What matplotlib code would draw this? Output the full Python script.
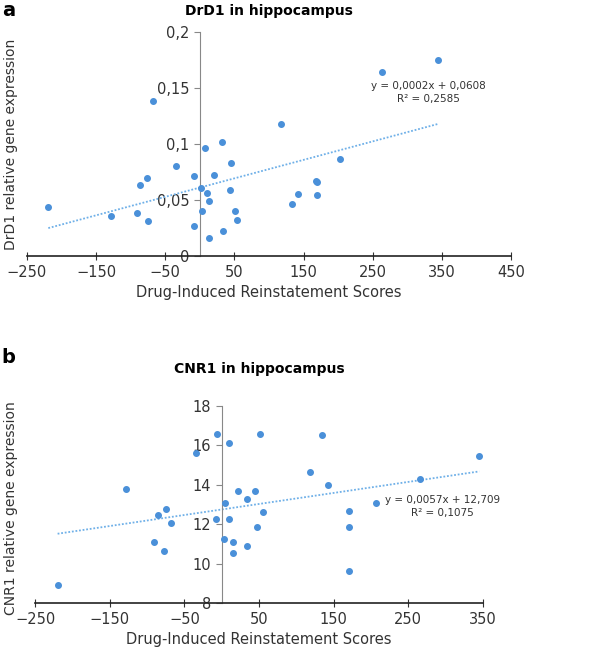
import numpy as np
import matplotlib.pyplot as plt

# Panel a: DrD1
a_x = [-219, -129, -91, -87, -77, -75, -68, -35, -9, -9, 2, 3, 7, 10, 14, 14, 21, 32, 34, 43,
       45, 51, 54, 117, 133, 142, 168, 170, 169, 203, 264, 344]
a_y = [0.0435, 0.036, 0.038, 0.063, 0.070, 0.031, 0.138, 0.080, 0.071, 0.027, 0.061, 0.040,
       0.096, 0.056, 0.049, 0.016, 0.072, 0.102, 0.022, 0.059, 0.083, 0.040, 0.032, 0.118,
       0.046, 0.055, 0.067, 0.066, 0.054, 0.087, 0.164, 0.175]

# Panel b: CNR1
b_x = [-220, -129, -91, -86, -77, -75, -68, -35, -8, -7, 3, 4, 9, 10, 15, 15, 22, 34, 34, 44,
       47, 51, 55, 118, 134, 143, 171, 171, 171, 206, 266, 345]
b_y = [8.9, 13.78, 11.07, 12.47, 10.65, 12.79, 12.08, 15.59, 12.27, 16.58, 11.22, 13.05,
       12.27, 16.11, 11.07, 10.51, 13.66, 13.27, 10.88, 13.66, 11.85, 16.58, 12.6, 14.63,
       16.53, 14.0, 9.62, 11.85, 12.65, 13.05, 14.3, 15.45]

blue = '#4a90d9'
grey = '#333333'

fig = plt.figure(figsize=(5.97, 6.56), dpi=100)


def panel(rect, xs, ys, title, ylabel, xlim, xticks, ylim, yticks, yfmt, eq, eqpos,
          ylab_y, tpad):
    ax = fig.add_axes(rect)
    ax.scatter(xs, ys, s=16, color=blue, zorder=3)
    k, b = np.polyfit(xs, ys, 1)
    lx = np.array([min(xs), max(xs)])
    ax.plot(lx, k * lx + b, ls=(0, (1, 1)), color='#6fb0e8', lw=1.3)
    ax.set_xlim(*xlim)
    ax.set_ylim(*ylim)
    ax.set_xticks(xticks)
    ax.set_yticks(yticks)
    ax.set_yticklabels([yfmt(v) for v in yticks])
    ax.spines['left'].set_position(('data', 0))
    ax.spines['bottom'].set_position(('data', ylim[0]))
    for s in ['top', 'right']:
        ax.spines[s].set_visible(False)
    ax.spines['left'].set_color('#888888')
    ax.spines['bottom'].set_color('#222222')
    ax.spines['bottom'].set_linewidth(1.2)
    ax.tick_params(axis='x', direction='inout', length=6, color='#333333',
                   labelsize=10.5, labelcolor=grey)
    ax.tick_params(axis='y', direction='out', length=4, color='#888888',
                   labelsize=10.5, labelcolor=grey)
    ax.set_title(title, fontsize=10, fontweight='bold', pad=tpad)
    ax.set_xlabel('Drug-Induced Reinstatement Scores', fontsize=10.5, color=grey)
    fig.text(0.018, ylab_y, ylabel, fontsize=10, color=grey, rotation=90,
             ha='center', va='center')
    ax.text(eqpos[0], eqpos[1], eq, fontsize=7.5, ha='center', va='center',
            color=grey, transform=ax.transAxes, linespacing=1.3)
    return ax


ax1 = panel([0.045, 0.61, 0.811, 0.341], a_x, a_y, 'DrD1 in hippocampus',
            'DrD1 relative gene expression', (-250, 450), range(-250, 451, 100),
            (0, 0.2), [0, 0.05, 0.1, 0.15, 0.2],
            lambda v: '0' if v == 0 else ('%g' % v).replace('.', ','),
            'y = 0,0002x + 0,0608\nR² = 0,2585', (0.83, 0.73), 0.78, 12)

ax2 = panel([0.059, 0.081, 0.75, 0.30], b_x, b_y, 'CNR1 in hippocampus',
            'CNR1 relative gene expression', (-250, 350), range(-250, 351, 100),
            (8, 18), [8, 10, 12, 14, 16, 18], lambda v: '%d' % v,
            'y = 0,0057x + 12,709\nR² = 0,1075', (0.91, 0.49), 0.225, 24)

fig.text(0.003, 0.998, 'a', fontsize=14, fontweight='bold', va='top')
fig.text(0.003, 0.47, 'b', fontsize=14, fontweight='bold', va='top')

fig.savefig('out.png', dpi=100)
